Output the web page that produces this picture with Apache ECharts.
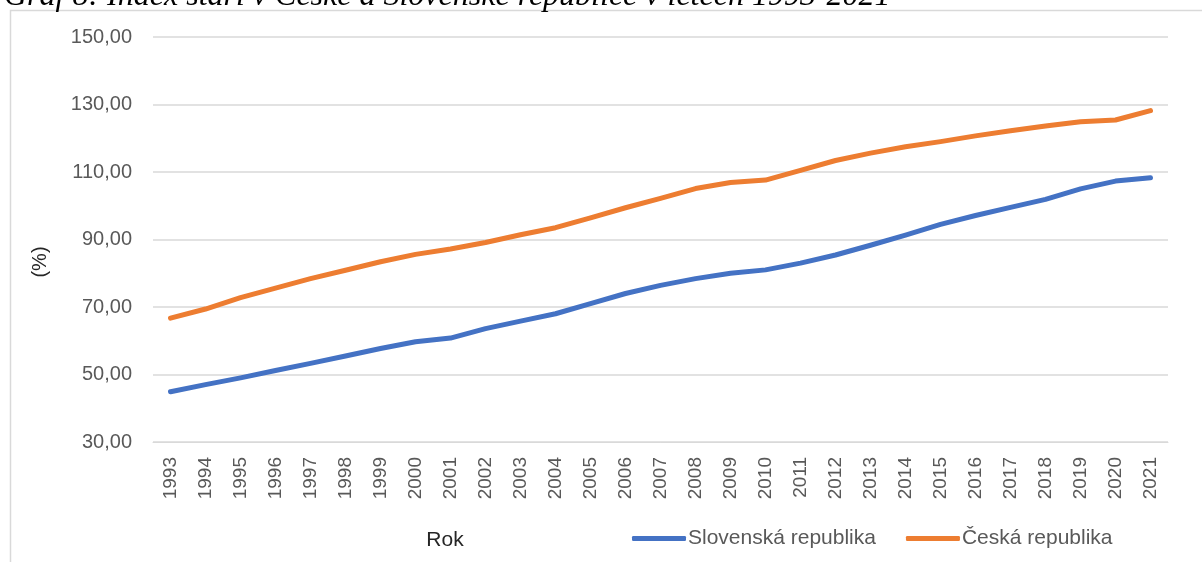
<!DOCTYPE html>
<html>
<head>
<meta charset="utf-8">
<script src="https://cdn.jsdelivr.net/npm/echarts@6/dist/echarts.min.js"></script>
<style>
  html, body { margin: 0; padding: 0; background: #fff; }
  #chart { width: 1202px; height: 562px; }
</style>
</head>
<body>
<div id="chart"></div>
<script>
// data
var years = ["1993", "1994", "1995", "1996", "1997", "1998", "1999", "2000", "2001", "2002",
  "2003", "2004", "2005", "2006", "2007", "2008", "2009", "2010", "2011", "2012",
  "2013", "2014", "2015", "2016", "2017", "2018", "2019", "2020", "2021"];
var slovensko = [44.9, 47.0, 49.0, 51.2, 53.3, 55.5, 57.7, 59.7, 60.8, 63.6,
  65.8, 68.0, 71.0, 74.0, 76.4, 78.4, 80.0, 81.0, 83.0, 85.4,
  88.3, 91.3, 94.5, 97.1, 99.5, 101.9, 105.0, 107.3, 108.3];
var cesko = [66.7, 69.4, 72.8, 75.6, 78.4, 80.9, 83.4, 85.6, 87.2, 89.1,
  91.4, 93.5, 96.4, 99.4, 102.2, 105.1, 106.9, 107.6, 110.5, 113.4,
  115.6, 117.5, 119.0, 120.7, 122.2, 123.6, 124.9, 125.4, 128.2];
var seriesNames = ["Slovenská republika", "Česká republika"];
var titleText = "Graf 8: Index stáří v České a Slovenské republice v letech 1993-2021";

var myChart = echarts.init(document.getElementById("chart"));
var fontFamily = "'Liberation Sans', Arial, sans-serif";
var gridColor = "#d9d9d9";
var labelColor = "#595959";

var option = {
  animation: false,
  color: ["#4472C4", "#ED7D31"],
  grid: {
    left: 153,
    right: 34,
    top: 37,
    bottom: 120
  },
  legend: {
    left: 627,
    top: 523,
    itemWidth: 54,
    itemHeight: 5,
    itemGap: 30,
    icon: "roundRect",
    textStyle: {
      color: labelColor,
      fontSize: 21,
      fontFamily: fontFamily,
      padding: [0, 0, 0, -3]
    },
    data: seriesNames
  },
  xAxis: {
    type: "category",
    boundaryGap: true,
    data: years,
    axisLine: { show: true, lineStyle: { color: gridColor, width: 1 } },
    axisTick: { show: false },
    axisLabel: {
      rotate: 90,
      margin: 15,
      interval: 0,
      color: labelColor,
      fontSize: 19,
      fontFamily: fontFamily
    }
  },
  yAxis: {
    type: "value",
    min: 30,
    max: 150,
    interval: 20,
    axisLine: { show: false },
    axisTick: { show: false },
    splitLine: { lineStyle: { color: gridColor, width: 1.5 } },
    axisLabel: {
      margin: 21,
      color: labelColor,
      fontSize: 20,
      fontFamily: fontFamily,
      formatter: function (v) {
        return v.toFixed(2).replace(".", ",");
      }
    }
  },
  graphic: [
    {
      type: "rect",
      shape: { x: 10.5, y: 10.5, width: 1200, height: 560 },
      style: { fill: "none", stroke: gridColor, lineWidth: 1.5 },
      silent: true
    },
    {
      type: "text",
      left: 4,
      top: -19,
      style: {
        text: titleText,
        fill: "#000",
        font: "italic 32px 'Liberation Serif', 'Times New Roman', serif"
      }
    },
    {
      type: "text",
      x: 445,
      y: 540,
      style: {
        text: "Rok",
        fill: "#262626",
        fontSize: 21,
        fontFamily: fontFamily,
        align: "center",
        verticalAlign: "middle"
      }
    },
    {
      type: "text",
      x: 40,
      y: 262,
      rotation: Math.PI / 2,
      style: {
        text: "(%)",
        fill: "#262626",
        fontSize: 20,
        fontFamily: fontFamily,
        align: "center",
        verticalAlign: "middle"
      }
    }
  ],
  series: [
    {
      name: seriesNames[0],
      type: "line",
      symbol: "none",
      data: slovensko,
      lineStyle: { width: 5, cap: "round", join: "round" }
    },
    {
      name: seriesNames[1],
      type: "line",
      symbol: "none",
      data: cesko,
      lineStyle: { width: 5, cap: "round", join: "round" }
    }
  ]
};
myChart.setOption(option);
</script>
</body>
</html>
